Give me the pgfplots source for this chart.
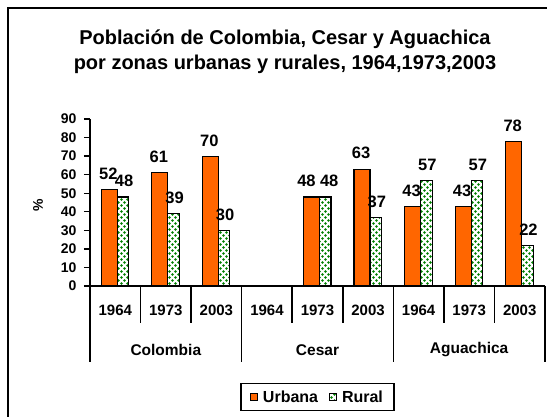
\documentclass[border=0pt]{standalone}
\usepackage{fontspec}
\setmainfont{Liberation Sans}
\usepackage{pgfplots}
\pgfplotsset{compat=1.18}
\usetikzlibrary{patterns.meta}

\definecolor{urbana}{RGB}{255,102,0}
\definecolor{dotgreen}{RGB}{0,128,0}

\tikzdeclarepattern{
  name=greendots,
  type=uncolored,
  bounding box={(-3pt,-3pt) and (3pt,3pt)},
  tile size={(6pt,6pt)},
  code={
    \pgfpathcircle{\pgfpoint{-1.5pt}{-1.5pt}}{1.35pt}
    \pgfpathcircle{\pgfpoint{1.5pt}{1.5pt}}{1.35pt}
    \pgfusepath{fill}
  }
}

\begin{document}
\begin{tikzpicture}
\begin{axis}[
  scale only axis, width=455pt, height=167pt,
  clip=false,
  ymin=0, ymax=90, ytick={0,10,...,90},
  xmin=-0.5, xmax=8.5,
  xtick={0,...,8},
  xticklabels={1964,1973,2003,1964,1973,2003,1964,1973,2003},
  axis x line*=bottom, axis y line*=left,
  axis line style={line width=1.6pt,-},
  x tick style={draw=none},
  y tick style={line width=1.4pt, black},
  tick align=outside, major tick length=6pt,
  /pgf/number format/assume math mode=true,
  xticklabel style={font=\fontsize{15}{18}\selectfont\bfseries, anchor=center, yshift=-18pt},
  yticklabel style={font=\fontsize{14}{16}\selectfont\bfseries, xshift=-4pt},
  ylabel={\%},
  every axis y label/.style={at={(axis description cs:-0.114,0.485)}, rotate=90, anchor=center, font=\fontsize{14}{16}\selectfont\bfseries},
  ybar=0pt,
  nodes near coords,
  visualization depends on=rawx \as \xv,
  legend columns=2,
  legend style={at={(0.5,0)}, anchor=north, yshift=-97pt, draw=black, line width=1.4pt,
    font=\fontsize{16}{18}\selectfont\bfseries, inner xsep=9pt, inner ysep=5pt,
    /tikz/every odd column/.append style={column sep=3pt},
    /tikz/every even column/.append style={column sep=9pt}},
  legend image code/.code={\draw[#1, line width=0.9pt] (0pt,-3.5pt) rectangle (7pt,3.5pt);},
]
\addplot[fill=urbana, draw=black, line width=1.2pt, bar width=16pt, bar shift=-6pt,
  nodes near coords style={font=\fontsize{16.5}{18}\selectfont\bfseries, black, yshift=6pt,
    xshift={ifthenelse(\xv==4,-5,-1)}}]
  coordinates {(0,52) (1,61) (2,70) (4,48) (5,63) (6,43) (7,43) (8,78)};
\addplot[draw=black, line width=1.2pt, bar width=11.5pt, bar shift=7.75pt,
  pattern=greendots, pattern color=dotgreen,
  nodes near coords style={font=\fontsize{16.5}{18}\selectfont\bfseries, black, yshift=6pt,
    xshift={ifthenelse(\xv==4,4,1)}}]
  coordinates {(0,48) (1,39) (2,30) (4,48) (5,37) (6,57) (7,57) (8,22)};
\legend{Urbana, Rural}

% category separators
\draw[line width=1.6pt] (axis cs:-0.5,0) -- ([yshift=-76pt]axis cs:-0.5,0);
\draw[line width=1.6pt] (axis cs:2.5,0) -- ([yshift=-76pt]axis cs:2.5,0);
\draw[line width=1.6pt] (axis cs:5.5,0) -- ([yshift=-76pt]axis cs:5.5,0);
\draw[line width=1.6pt] (axis cs:8.5,0) -- ([yshift=-76pt]axis cs:8.5,0);
\draw[line width=1.6pt] (axis cs:0.5,0) -- ([yshift=-37pt]axis cs:0.5,0);
\draw[line width=1.6pt] (axis cs:1.5,0) -- ([yshift=-37pt]axis cs:1.5,0);
\draw[line width=1.6pt] (axis cs:3.5,0) -- ([yshift=-37pt]axis cs:3.5,0);
\draw[line width=1.6pt] (axis cs:4.5,0) -- ([yshift=-37pt]axis cs:4.5,0);
\draw[line width=1.6pt] (axis cs:6.5,0) -- ([yshift=-37pt]axis cs:6.5,0);
\draw[line width=1.6pt] (axis cs:7.5,0) -- ([yshift=-37pt]axis cs:7.5,0);
\node[font=\fontsize{15.5}{18}\selectfont\bfseries] at (axis cs:1,0) [yshift=-64pt] {Colombia};
\node[font=\fontsize{15.5}{18}\selectfont\bfseries] at (axis cs:4,0) [yshift=-64pt] {Cesar};
\node[font=\fontsize{15.5}{18}\selectfont\bfseries] at (axis cs:7,0) [yshift=-64pt] {Aguachica};
\end{axis}

\node[font=\fontsize{20}{25}\selectfont\bfseries, align=center] at (195pt,234.5pt)
  {Población de Colombia, Cesar y Aguachica\\por zonas urbanas y rurales, 1964,1973,2003};
\draw[line width=2pt] (-82pt,-140pt) -- (-82pt,278pt) -- (470pt,278pt);

\pgfresetboundingbox
\useasboundingbox (-90pt,-131pt) rectangle (457pt,286pt);
\end{tikzpicture}
\end{document}
